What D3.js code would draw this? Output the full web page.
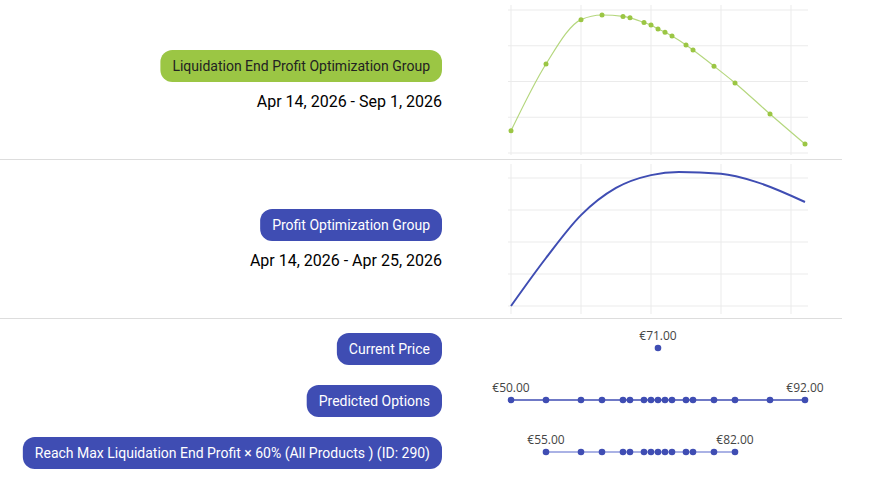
<!DOCTYPE html>
<html><head><meta charset="utf-8">
<script src="https://cdn.jsdelivr.net/npm/d3@7"></script>
<style>body{margin:0;background:#fff;font-family:Roboto,"Noto Sans",sans-serif;}</style>
</head><body><svg id="c" width="871" height="479"></svg>
<script>
// prices tested (euros)
var prices = [50,55,60,63,66,67,69,70,71,72,73,75,76,79,82,87,92];
var liqProfit = [0.62,2.49,3.73,3.86,3.82,3.78,3.65,3.58,3.47,3.38,3.27,3.02,2.88,2.43,1.96,1.09,0.25];
var curvePrices = [50,55,60,65,70,74,80,85,92];
var curveProfit = [0,1.5,2.84,3.69,4.09,4.19,4.13,3.88,3.25];
var currentPrice = 71;
var reachPrices = [55,60,63,66,67,69,70,71,72,73,75,76,79,82];
var labels = ['Liquidation End Profit Optimization Group','Profit Optimization Group','Current Price','Predicted Options','Reach Max Liquidation End Profit × 60% (All Products ) (ID: 290)'];
var dates = ['Apr 14, 2026 - Sep 1, 2026','Apr 14, 2026 - Apr 25, 2026'];

var svg = d3.select('#c');
var x = d3.scaleLinear().domain([50,92]).range([511,805]);
var blue = '#3f4db3', green = '#9bc644';

// dividers
[159,318].forEach(function(y){
  svg.append('line').attr('x1',0).attr('x2',842).attr('y1',y+.5).attr('y2',y+.5).attr('stroke','#dddddd');
});

function badge(text, cy, fill, color) {
  var g = svg.append('g');
  var t = g.append('text').attr('x',430).attr('y',cy+5).attr('text-anchor','end')
    .attr('font-size',14).attr('fill',color).text(text);
  var w = t.node().getComputedTextLength();
  g.insert('rect','text').attr('x',430-w-12).attr('y',cy-16).attr('width',w+24).attr('height',32)
    .attr('rx',12).attr('fill',fill);
}
function dateText(text, y) {
  svg.append('text').attr('x',442).attr('y',y).attr('text-anchor','end').attr('font-size',16).attr('fill','#000').text(text);
}

function grid(y, x0, x1, y0, y1) {
  y.ticks(4).forEach(function(t){
    svg.append('line').attr('x1',508).attr('x2',808).attr('y1',y(t)).attr('y2',y(t)).attr('stroke','#ebebeb');
  });
  [50,60,70,80,90].forEach(function(t){
    svg.append('line').attr('x1',x(t)).attr('x2',x(t)).attr('y1',y0).attr('y2',y1).attr('stroke','#ebebeb');
  });
}

// panel 1
badge(labels[0], 66, green, '#222');
dateText(dates[0], 107);
var y1 = d3.scaleLinear().domain([0,4]).range([153,10]);
grid(y1, 0, 0, 5, 155);
svg.append('path').datum(prices).attr('fill','none').attr('stroke','#b5d77e').attr('stroke-width',1.2)
  .attr('d', d3.line().x(function(d){return x(d);}).y(function(d,i){return y1(liqProfit[i]);}).curve(d3.curveMonotoneX));
svg.selectAll('.g1').data(prices).enter().append('circle').attr('cx',function(d){return x(d);})
  .attr('cy',function(d,i){return y1(liqProfit[i]);}).attr('r',2.5).attr('fill',green);

// panel 2
badge(labels[1], 225, blue, '#fff');
dateText(dates[1], 266);
var y2 = d3.scaleLinear().domain([0,4]).range([306,178]);
grid(y2, 0, 0, 164, 314);
svg.append('path').datum(curvePrices).attr('fill','none').attr('stroke',blue).attr('stroke-width',2)
  .attr('d', d3.line().x(function(d){return x(d);}).y(function(d,i){return y2(curveProfit[i]);}).curve(d3.curveMonotoneX));

// panel 3
badge(labels[2], 349, blue, '#fff');
badge(labels[3], 401, blue, '#fff');
badge(labels[4], 453, blue, '#fff');

function dotRow(data, cy, lineColor) {
  if (data.length > 1)
    svg.append('line').attr('x1',x(data[0])).attr('x2',x(data[data.length-1])).attr('y1',cy).attr('y2',cy)
      .attr('stroke',lineColor).attr('stroke-width',1.5);
  svg.selectAll(null).data(data).enter().append('circle').attr('cx',function(d){return x(d);}).attr('cy',cy).attr('r',3.3).attr('fill',blue);
  var ends = data.length > 1 ? [data[0], data[data.length-1]] : [data[0]];
  ends.forEach(function(d){
    svg.append('text').attr('x',x(d)).attr('y',cy-8).attr('text-anchor','middle').attr('font-size',12)
      .attr('font-family','"Open Sans",sans-serif').attr('fill','#444').text('€' + d.toFixed(2));
  });
}
dotRow([currentPrice], 348, blue);
dotRow(prices, 400, blue);
dotRow(reachPrices, 452, '#8e98dc');
</script></body></html>
